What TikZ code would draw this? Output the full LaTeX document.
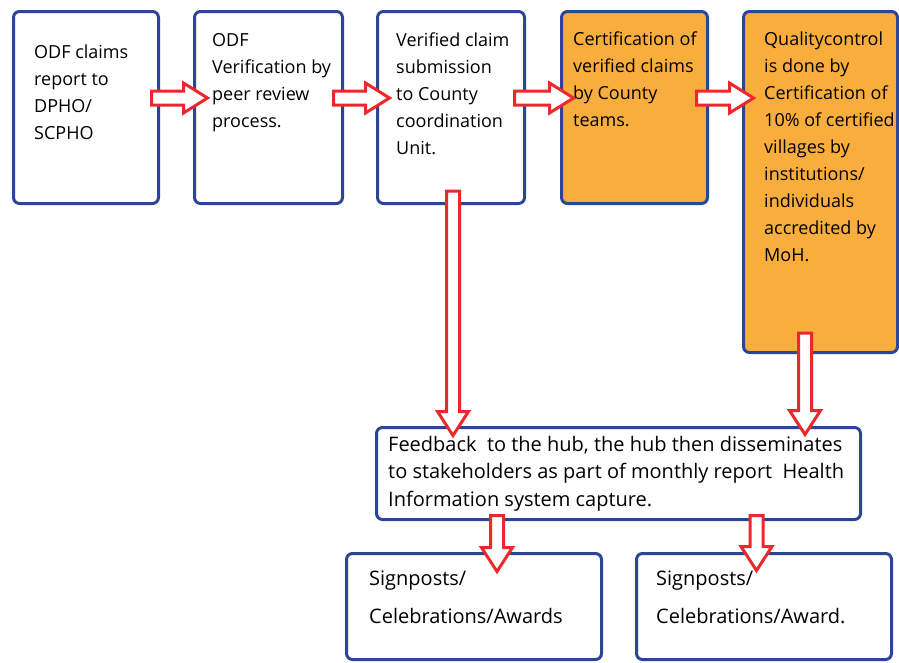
\documentclass[tikz,border=0pt]{standalone}
\usepackage{fontspec}
\setmainfont{Open Sans}
\usetikzlibrary{calc}
\definecolor{myblue}{RGB}{44,70,150}
\definecolor{myorange}{RGB}{249,173,60}
\definecolor{myred}{RGB}{237,40,44}
\newcommand\tstrut{\rule{0pt}{20pt}}
\newcommand\harr[2]{\draw[blockarr] let \p1=(#1), \p2=(#2) in
  (\x1,{\y1+7pt}) -- ({\x2-24pt},{\y1+7pt}) -- ({\x2-24pt},{\y1+15pt}) -- (\x2,\y1) --
  ({\x2-24pt},{\y1-15pt}) -- ({\x2-24pt},{\y1-7pt}) -- (\x1,{\y1-7pt}) -- cycle;}
\newcommand\varr[2]{\draw[blockarr] let \p1=(#1), \p2=(#2) in
  ({\x1-6.5pt},\y1) -- ({\x1+6.5pt},\y1) -- ({\x1+6.5pt},{\y2+24pt}) -- ({\x1+15.5pt},{\y2+24pt}) --
  (\x1,\y2) -- ({\x1-15.5pt},{\y2+24pt}) -- ({\x1-6.5pt},{\y2+24pt}) -- cycle;}
\begin{document}
\begin{tikzpicture}[x=1pt,y=-1pt,
  box/.style={draw=myblue, line width=3pt, rounded corners=6pt, fill=white,
    inner sep=0pt, outer sep=0pt, anchor=north west},
  obox/.style={box, fill=myorange},
  txt/.style={anchor=north west, align=left, inner sep=0pt,
    font=\fontsize{18}{27}\selectfont},
  wtxt/.style={txt, font=\fontsize{20}{27.5}\selectfont},
  stxt/.style={txt, font=\fontsize{20}{38}\selectfont},
  blockarr/.style={draw=myred, line width=3pt, fill=white, line join=miter}]
\useasboundingbox (0,0) rectangle (899,662);
% boxes
\node[box, minimum width=145pt, minimum height=192pt] (b1) at (13.5,11.5) {};
\node[box, minimum width=148pt, minimum height=192pt] (b2) at (194.5,11.5) {};
\node[box, minimum width=147pt, minimum height=192pt] (b3) at (377.5,11.5) {};
\node[obox, minimum width=146pt, minimum height=192pt] (b4) at (561.5,11.5) {};
\node[obox, minimum width=154pt, minimum height=341pt] (b5) at (743.5,11.5) {};
\node[box, minimum width=484pt, minimum height=92pt] (fb) at (376.5,427.5) {};
\node[box, minimum width=255pt, minimum height=106pt] (s1) at (346.5,553.5) {};
\node[box, minimum width=255pt, minimum height=106pt] (s2) at (636.5,553.5) {};
% texts (top = first baseline - 20)
\node[txt] (t1) at (34,38) {\tstrut ODF claims\\report to\\DPHO/\\SCPHO};
\node[txt] (t2) at (212,26) {\tstrut ODF\\Verification by\\peer review\\process.};
\node[txt] (t3) at (396,26) {\tstrut Verified claim\\submission\\to County\\coordination\\Unit.};
\node[txt] (t4) at (573,25) {\tstrut Certification of\\verified claims\\by County\\teams.};
\node[txt] (t5) at (764,25) {\tstrut Qualitycontrol\\is done by\\Certification of\\10\% of certified\\villages by\\institutions/\\individuals\\accredited by\\MoH.};
\node[wtxt] (tf) at (388,431) {\tstrut Feedback\ \ to the hub, the hub then disseminates\\to stakeholders as part of monthly report\ \ Health\\Information system capture.};
\node[stxt] (ts1) at (369,565) {\tstrut Signposts/\\Celebrations/Awards};
\node[stxt] (ts2) at (656,565) {\tstrut Signposts/\\Celebrations/Award.};
% horizontal arrows
\coordinate (h1s) at ($(b1.east)+(-7,-9.5)$);
\coordinate (h1e) at ($(b2.west|-h1s)+(13,0)$);
\coordinate (h2s) at ($(b2.east)+(-9,-9.5)$);
\coordinate (h2e) at ($(b3.west|-h2s)+(12,0)$);
\coordinate (h3s) at ($(b3.east)+(-10,-9.5)$);
\coordinate (h3e) at ($(b4.west|-h3s)+(12,0)$);
\coordinate (h4s) at ($(b4.east)+(-11,-9.5)$);
\coordinate (h4e) at ($(b5.west|-h4s)+(10,0)$);
\harr{h1s}{h1e}
\harr{h2s}{h2e}
\harr{h3s}{h3e}
\harr{h4s}{h4e}
% vertical arrows
\coordinate (v1s) at ($(b3.south)+(2,-12.5)$);
\coordinate (v1e) at ($(v1s|-fb.north)+(0,8)$);
\coordinate (v2s) at ($(b5.south)+(-15.5,-19.5)$);
\coordinate (v2e) at ($(v2s|-fb.north)+(0,7)$);
\coordinate (v3s) at ($(s1.north|-fb.south)+(23,-4)$);
\coordinate (v3e) at ($(v3s|-s1.north)+(0,18)$);
\coordinate (v4s) at ($(s2.north|-fb.south)+(-7.5,-4)$);
\coordinate (v4e) at ($(v4s|-s2.north)+(0,17)$);
\varr{v1s}{v1e}
\varr{v2s}{v2e}
\varr{v3s}{v3e}
\varr{v4s}{v4e}
\end{tikzpicture}
\end{document}
